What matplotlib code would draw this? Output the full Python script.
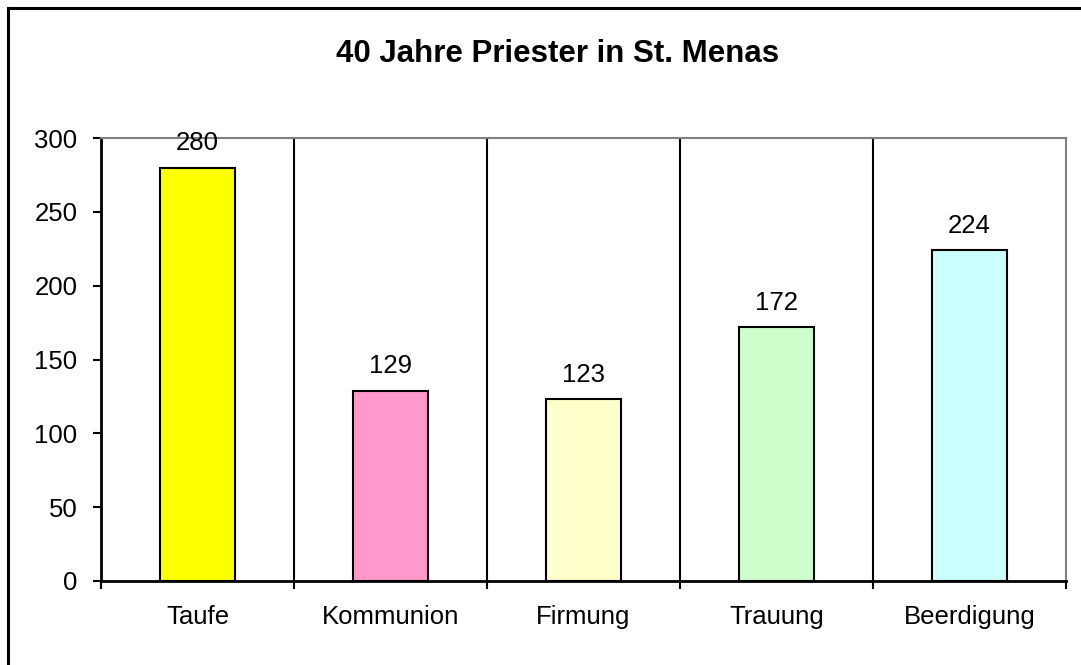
import matplotlib
matplotlib.use("Agg")
import matplotlib.pyplot as plt
from matplotlib.lines import Line2D

categories = ["Taufe", "Kommunion", "Firmung", "Trauung", "Beerdigung"]
values = [280, 129, 123, 172, 224]
colors = ["#FFFF00", "#FF99CC", "#FFFFCC", "#CCFFCC", "#CCFFFF"]
title = "40 Jahre Priester in St. Menas"
yticks = [0, 50, 100, 150, 200, 250, 300]

plt.rcParams['font.family'] = ['Liberation Sans', 'DejaVu Sans']

fig = plt.figure(figsize=(10.81, 6.65), dpi=100)
ax = fig.add_axes([101/1081, 1-581/665, (1066-101)/1081, (581-138)/665])

x = list(range(len(categories)))
ax.bar(x, values, width=0.39, color=colors, edgecolor="black", linewidth=1.5, zorder=3)

for xi, v in zip(x, values):
    ax.annotate(str(v), (xi, v), xytext=(0, 9), textcoords="offset points",
                ha="center", va="bottom", fontsize=18.5, zorder=4)

ax.set_xlim(-0.5, len(categories) - 0.5)
ax.set_ylim(0, 300)
ax.set_yticks(yticks)
ax.set_yticklabels([str(t) for t in yticks])

# boundary ticks (major, unlabeled) and centered labels (minor)
ax.set_xticks([i - 0.5 for i in range(len(categories) + 1)])
ax.set_xticklabels([])
ax.set_xticks(x, minor=True)
ax.set_xticklabels(categories, minor=True)
ax.tick_params(axis="x", which="major", length=6, width=1.5, color="black", direction="out")
ax.tick_params(axis="x", which="minor", length=0, pad=17, labelsize=18.5)
ax.tick_params(axis="y", length=6, width=1.5, color="black", direction="out", pad=11, labelsize=18.5)

for b in range(1, len(categories)):
    ax.axvline(b - 0.5, color="black", linewidth=1.5, zorder=2)

ax.spines["left"].set_linewidth(2)
ax.spines["bottom"].set_linewidth(2)
ax.spines["top"].set_color("#808080")
ax.spines["right"].set_color("#808080")
ax.spines["top"].set_linewidth(1.5)
ax.spines["right"].set_linewidth(1.5)

fig.text(0.516, 1 - 54/665, title, ha="center", va="center", fontsize=22.5, fontweight="bold")

# figure border (left and top visible)
fig.add_artist(Line2D([8/1081, 8/1081], [0, 1 - 8/665], transform=fig.transFigure, color="black", linewidth=2.2))
fig.add_artist(Line2D([8/1081, 1], [1 - 8/665, 1 - 8/665], transform=fig.transFigure, color="black", linewidth=2.2))

fig.savefig("out.png", dpi=100)
